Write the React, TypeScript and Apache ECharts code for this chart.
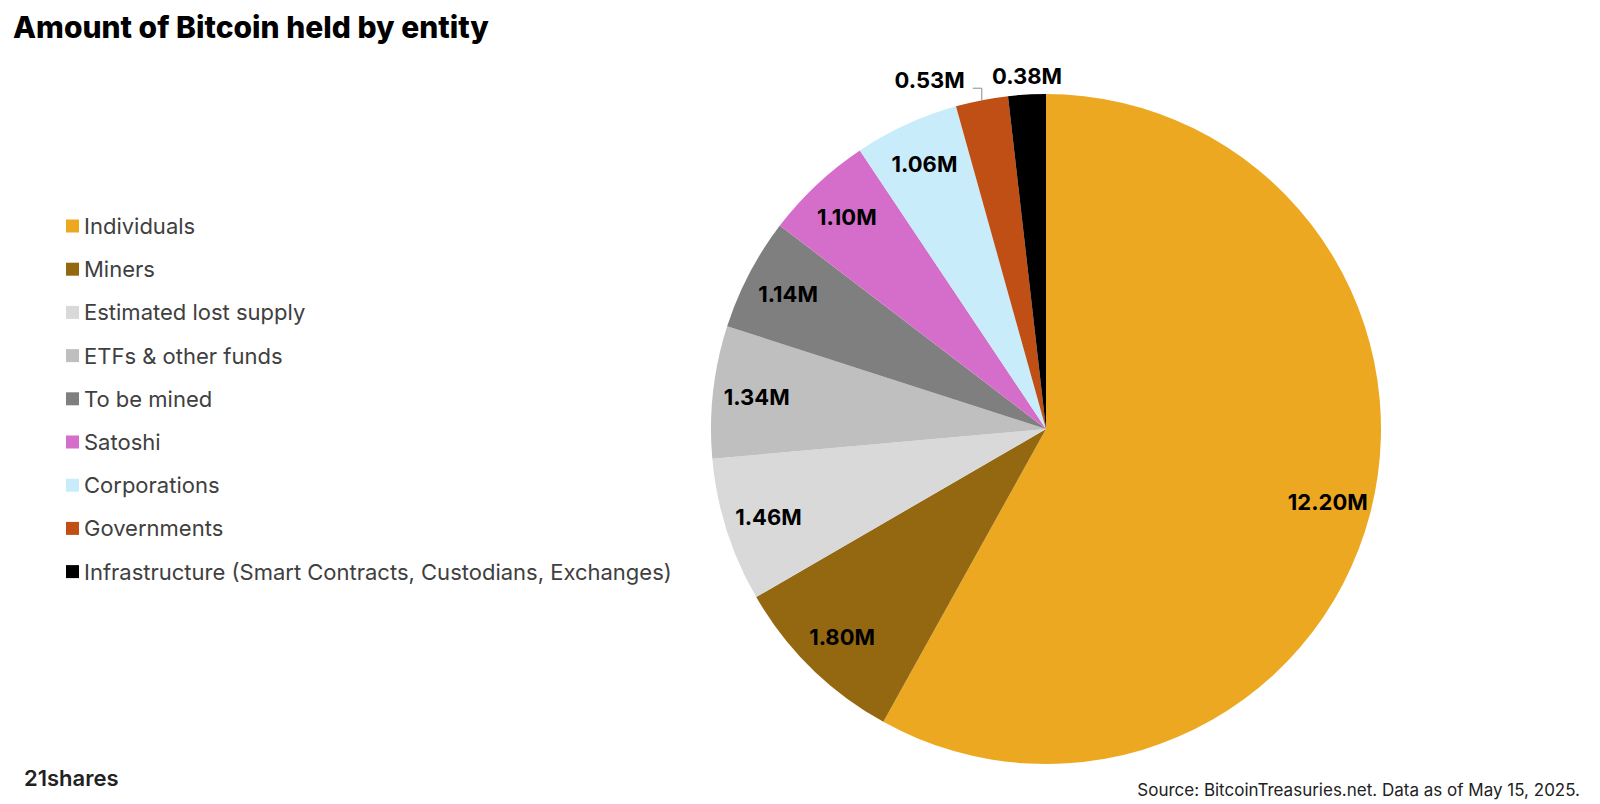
import { useEffect, useRef } from 'react';
import * as echarts from 'echarts';

const entities = [
  'Individuals',
  'Miners',
  'Estimated lost supply',
  'ETFs & other funds',
  'To be mined',
  'Satoshi',
  'Corporations',
  'Governments',
  'Infrastructure (Smart Contracts, Custodians, Exchanges)'
];
const holdings = [12.2, 1.8, 1.46, 1.34, 1.14, 1.1, 1.06, 0.53, 0.38];
const colors = ['#eca820', '#946810', '#d9d9d9', '#bfbfbf', '#7f7f7f', '#d56ecb', '#c9ecfa', '#c04f15', '#000000'];

const FONT = 'Inter, "Noto Sans", sans-serif';
const CENTER: [number, number] = [1046, 429];
const R = 335;

const App = () => {
  const chartRef = useRef<HTMLDivElement>(null);

  useEffect(() => {
    if (!chartRef.current) return;
    const chart = echarts.init(chartRef.current, undefined, { renderer: 'svg' });

    const pieData = entities.map((name, i) => ({
      name,
      value: holdings[i],
      itemStyle: { color: colors[i] }
    }));

    // small slices get their labels outside, above the rim
    const outsideIdx = [7, 8];

    const labelData = entities.map((name, i) => ({
      name,
      value: holdings[i],
      label: outsideIdx.includes(i)
        ? { position: 'outside' as const }
        : { position: 'inside' as const },
      labelLine: { show: i === 7 }
    }));

    const option: echarts.EChartsOption = {
      animation: false,
      title: {
        text: 'Amount of Bitcoin held by entity',
        left: 8,
        top: 7,
        textStyle: { fontFamily: FONT, fontSize: 30, fontWeight: 800, color: '#000' }
      },
      legend: {
        orient: 'vertical',
        left: 61,
        top: 210,
        itemWidth: 13,
        itemHeight: 13,
        itemGap: 21.2,
        icon: 'rect',
        data: entities,
        textStyle: { fontFamily: FONT, fontSize: 22, color: '#404040' }
      },
      graphic: [
        {
          type: 'text',
          left: 24,
          top: 767,
          style: { text: '21shares', fontFamily: FONT, fontSize: 22, fontWeight: 600, fill: '#222' }
        },
        {
          type: 'text',
          right: 20,
          top: 781,
          style: { text: 'Source: BitcoinTreasuries.net. Data as of May 15, 2025.', fontFamily: FONT, fontSize: 17, fill: '#222' }
        }
      ],
      series: [
        {
          type: 'pie',
          center: CENTER,
          radius: [0, R],
          startAngle: 90,
          clockwise: true,
          silent: true,
          label: { show: false },
          labelLine: { show: false },
          data: pieData
        },
        {
          type: 'pie',
          center: CENTER,
          radius: [R * 0.72, R],
          startAngle: 90,
          clockwise: true,
          silent: true,
          itemStyle: { color: 'rgba(0,0,0,0)' },
          label: {
            show: true,
            rotate: 0,
            formatter: (p: any) => `${p.value.toFixed(2)}M`,
            fontFamily: FONT,
            fontSize: 22,
            fontWeight: 700,
            color: '#000'
          },
          labelLine: { lineStyle: { color: '#8c8c8c', width: 1 } },
          labelLayout: (params: any) => {
            if (!outsideIdx.includes(params.dataIndex) || !params.labelLinePoints) return {};
            const p0 = params.labelLinePoints[0];
            if (params.dataIndex === 8) {
              return { x: p0[0], y: p0[1] - 19, align: 'center', verticalAlign: 'middle' };
            }
            const top = p0[1] - 12;
            return {
              x: p0[0] - 17,
              y: top - 8,
              align: 'right',
              verticalAlign: 'middle',
              labelLinePoints: [p0, [p0[0], top], [p0[0] - 9, top]]
            };
          },
          data: labelData
        }
      ]
    };

    chart.setOption(option);
    return () => chart.dispose();
  }, []);

  return <div ref={chartRef} style={{ position: 'absolute', left: 0, top: 0, width: 1600, height: 804 }} />;
};

export default App;
